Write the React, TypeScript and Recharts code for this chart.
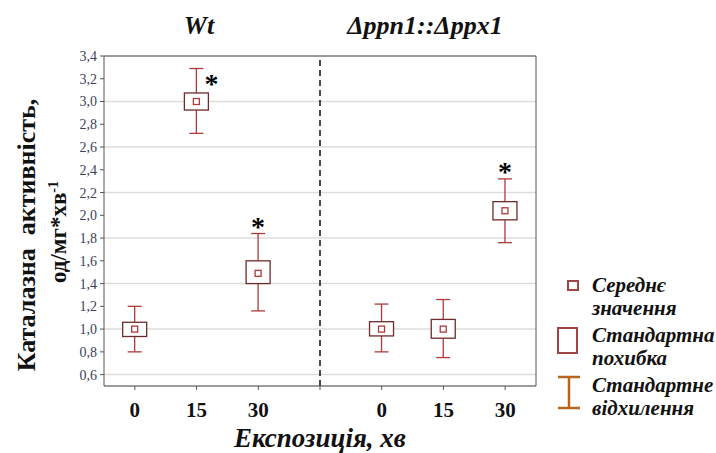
import React from 'react';
import {
  ComposedChart,
  Bar,
  XAxis,
  YAxis,
  CartesianGrid,
  ReferenceLine,
} from 'recharts';

const categories = ['0', '15', '30', '', '0', '15', '30'];
const means = [1.0, 3.0, 1.49, null, 1.0, 1.0, 2.04];
const seLow = [0.935, 2.925, 1.4, null, 0.94, 0.92, 1.96];
const seHigh = [1.06, 3.075, 1.6, null, 1.065, 1.085, 2.12];
const sdLow = [0.8, 2.72, 1.16, null, 0.8, 0.75, 1.76];
const sdHigh = [1.2, 3.29, 1.84, null, 1.22, 1.26, 2.32];
const stars = ['', 'right', 'top', '', '', '', 'top'];
const yTicks = [0.6, 0.8, 1.0, 1.2, 1.4, 1.6, 1.8, 2.0, 2.2, 2.4, 2.6, 2.8, 3.0, 3.2, 3.4];

const data = categories.map((c, i) => ({
  key: 'c' + i,
  label: c,
  mean: means[i],
  seLow: seLow[i],
  seHigh: seHigh[i],
  sdLow: sdLow[i],
  sdHigh: sdHigh[i],
  star: stars[i],
}));

const serif = '"Liberation Serif", "Times New Roman", serif';
const whiskerColor = '#b03a3a';
const boxColor = '#6e2b2b';

function BoxShape(props: any) {
  const { x, y, width, height, payload } = props;
  if (payload.mean == null) return null;
  const hi = payload.sdHigh;
  const lo = payload.sdLow;
  const toY = (v: number) => y + ((hi - v) / (hi - lo)) * height;
  const cx = x + width / 2;
  const top = toY(hi);
  const bot = toY(lo);
  const bTop = toY(payload.seHigh);
  const bBot = toY(payload.seLow);
  const m = toY(payload.mean);
  return (
    <g>
      <line x1={cx} x2={cx} y1={top} y2={bTop} stroke={whiskerColor} strokeWidth={1.3} />
      <line x1={cx} x2={cx} y1={bBot} y2={bot} stroke={whiskerColor} strokeWidth={1.3} />
      <line x1={cx - 7} x2={cx + 7} y1={top} y2={top} stroke={whiskerColor} strokeWidth={1.3} />
      <line x1={cx - 7} x2={cx + 7} y1={bot} y2={bot} stroke={whiskerColor} strokeWidth={1.3} />
      <rect x={cx - 12} y={bTop} width={24} height={bBot - bTop} fill="#fff" stroke={boxColor} strokeWidth={1.3} />
      <rect x={cx - 3} y={m - 3} width={6} height={6} fill="#fff" stroke={whiskerColor} strokeWidth={1.3} />
      {payload.star === 'top' && (
        <text x={cx} y={top + 2} textAnchor="middle" fontFamily={serif} fontWeight="bold" fontSize={28} fill="#000">*</text>
      )}
      {payload.star === 'right' && (
        <text x={cx + 15} y={top + 24} textAnchor="middle" fontFamily={serif} fontWeight="bold" fontSize={28} fill="#000">*</text>
      )}
    </g>
  );
}

const legendText: React.CSSProperties = {
  position: 'absolute',
  left: 592,
  fontFamily: serif,
  fontWeight: 'bold',
  fontStyle: 'italic',
  fontSize: 21,
  lineHeight: '22.5px',
  color: '#111',
  whiteSpace: 'nowrap',
};

const titleStyle: React.CSSProperties = {
  position: 'absolute',
  top: 13,
  textAlign: 'center',
  fontFamily: serif,
  fontWeight: 'bold',
  fontStyle: 'italic',
  fontSize: 26,
  lineHeight: '26px',
  color: '#111',
};

const yLabelStyle: React.CSSProperties = {
  position: 'absolute',
  transform: 'translate(-50%, -50%) rotate(-90deg)',
  fontFamily: serif,
  fontWeight: 'bold',
  whiteSpace: 'nowrap',
  color: '#111',
};

export default function App() {
  return (
    <div style={{ position: 'absolute', left: 0, top: 0, width: 716, height: 453, background: '#fff' }}>
      <ComposedChart
        width={716}
        height={453}
        data={data}
        margin={{ top: 56, right: 180, bottom: 27, left: 64 }}
      >
        <CartesianGrid vertical={false} horizontal stroke="#dddddd" strokeWidth={1.5} />
        <XAxis
          dataKey="key"
          tickFormatter={(v, i) => data[i]?.label ?? ''}
          tick={{ fontFamily: serif, fontWeight: 'bold', fontSize: 21, fill: '#111' }}
          tickMargin={12}
          tickSize={4}
          height={40}
          stroke="#555"
          interval={0}
        />
        <XAxis
          xAxisId="top"
          dataKey="key"
          orientation="top"
          mirror
          tick={false}
          tickSize={4}
          height={1}
          stroke="#555"
          interval={0}
        />
        <YAxis
          domain={[0.5, 3.4]}
          ticks={yTicks}
          allowDataOverflow
          width={40}
          tickSize={4}
          tickMargin={3}
          stroke="#555"
          tick={{ fontFamily: serif, fontSize: 14, fill: '#3a3f5c' }}
          tickFormatter={(v: number) => v.toFixed(1).replace('.', ',')}
        />
        <YAxis
          yAxisId="r"
          orientation="right"
          domain={[0.5, 3.4]}
          ticks={yTicks}
          mirror
          width={1}
          tickSize={4}
          tick={false}
          stroke="#555"
        />
        <ReferenceLine x="c3" stroke="#111" strokeWidth={1.5} strokeDasharray="6 4" />
        <Bar
          dataKey={(d: any) => (d.mean == null ? null : [d.sdLow, d.sdHigh])}
          shape={BoxShape}
          isAnimationActive={false}
        />
      </ComposedChart>

      <div style={{ ...titleStyle, left: 149, width: 100 }}>Wt</div>
      <div style={{ ...titleStyle, left: 325, width: 200 }}>Δppn1::Δppx1</div>
      <div style={{ position: 'absolute', left: 170, width: 300, top: 423, textAlign: 'center', fontFamily: serif, fontWeight: 'bold', fontStyle: 'italic', fontSize: 27, lineHeight: '31px', color: '#111' }}>Експозиція, хв</div>

      <div style={{ position: 'absolute', left: 27, top: 235, width: 0, height: 0 }}>
        <div style={{ ...yLabelStyle, fontSize: 26 }}>Каталазна&nbsp; активність,</div>
      </div>
      <div style={{ position: 'absolute', left: 59, top: 232, width: 0, height: 0 }}>
        <div style={{ ...yLabelStyle, fontSize: 23 }}>од/мг*хв<sup style={{ fontSize: 14 }}>-1</sup></div>
      </div>

      <div style={{ position: 'absolute', left: 567, top: 280, width: 8, height: 7, border: '2px solid #a04545' }} />
      <div style={{ ...legendText, top: 274 }}>Середнє<br />значення</div>
      <div style={{ position: 'absolute', left: 557, top: 327, width: 17, height: 23, border: '2.5px solid #a04545' }} />
      <div style={{ ...legendText, top: 324 }}>Стандартна<br />похибка</div>
      <svg style={{ position: 'absolute', left: 556, top: 375 }} width={26} height={36}>
        <line x1={2} x2={24} y1={2} y2={2} stroke="#b5651d" strokeWidth={2.5} />
        <line x1={13} x2={13} y1={2} y2={33} stroke="#b5651d" strokeWidth={2.5} />
        <line x1={2} x2={24} y1={33} y2={33} stroke="#b5651d" strokeWidth={2.5} />
      </svg>
      <div style={{ ...legendText, top: 374 }}>Стандартне<br />відхилення</div>
    </div>
  );
}
